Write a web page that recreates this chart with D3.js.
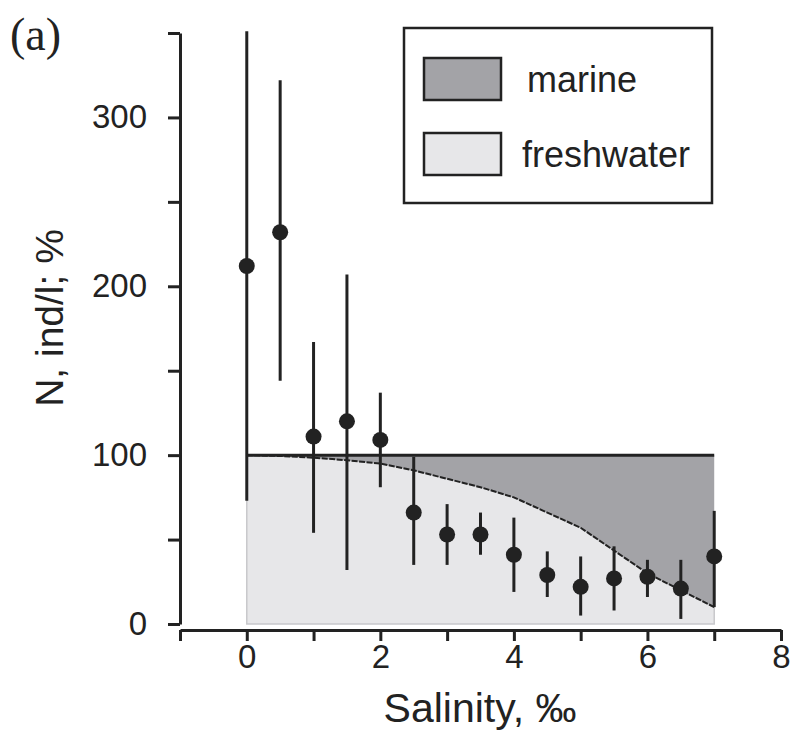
<!DOCTYPE html>
<html>
<head>
<meta charset="utf-8">
<script src="https://cdn.jsdelivr.net/npm/d3@7"></script>
<style>
  body { margin: 0; background: #fff; }
  svg { display: block; }
  text { font-family: "Liberation Sans", Arial, sans-serif; fill: #222; }
</style>
</head>
<body>
<div id="chart"></div>
<script>
// Dados
const salinity = [0, 0.5, 1, 1.5, 2, 2.5, 3, 3.5, 4, 4.5, 5, 5.5, 6, 6.5, 7];
const meanN = [212, 232, 111, 120, 109, 66, 53, 53, 41, 29, 22, 27, 28, 21, 40];
const lowN = [73, 144, 54, 32, 81, 35, 35, 41, 19, 16, 5, 8, 16, 3, 10];
const highN = [351, 322, 167, 207, 137, 99, 71, 66, 63, 43, 40, 46, 38, 38, 67];
const freshwaterPct = [100, 99.5, 98.5, 97, 95, 91, 86, 81, 75, 66, 57, 43.5, 30, 20, 10];
const totalPct = [100, 100, 100, 100, 100, 100, 100, 100, 100, 100, 100, 100, 100, 100, 100];

const xTicks = [-1, 0, 1, 2, 3, 4, 5, 6, 7, 8];
const xLabels = [0, 2, 4, 6, 8];
const yTicks = [0, 50, 100, 150, 200, 250, 300, 350];
const yLabels = [0, 100, 200, 300];
const legendItems = ["marine", "freshwater"];

const W = 794, H = 751;
const colors = { marine: "#a3a3a7", freshwater: "#e7e7e9", ink: "#222" };

const svg = d3.select("#chart")
    .append("svg")
    .attr("width", W)
    .attr("height", H);

// Escalas
const x = d3.scaleLinear().domain([-1, 8]).range([180, 781]);
const y = d3.scaleLinear().domain([0, 350]).range([624, 33]);

const rows = salinity.map((s, i) => ({
    s, mean: meanN[i], low: lowN[i], high: highN[i],
    fresh: freshwaterPct[i], total: totalPct[i]
}));

// Áreas
const freshArea = d3.area()
    .x(d => x(d.s))
    .y0(y(0))
    .y1(d => y(d.fresh));

const marineArea = d3.area()
    .x(d => x(d.s))
    .y0(d => y(d.fresh))
    .y1(d => y(d.total));

svg.append("path")
    .datum(rows)
    .attr("d", freshArea)
    .attr("fill", colors.freshwater)
    .attr("stroke", "#c8c8cb")
    .attr("stroke-width", 1.5);

svg.append("path")
    .datum(rows)
    .attr("d", marineArea)
    .attr("fill", colors.marine);

// Linha da fronteira
svg.append("path")
    .datum(rows)
    .attr("d", d3.line().x(d => x(d.s)).y(d => y(d.fresh)))
    .attr("fill", "none")
    .attr("stroke", colors.ink)
    .attr("stroke-width", 2)
    .attr("stroke-dasharray", "6,1.5");

svg.append("path")
    .datum(rows)
    .attr("d", d3.line().x(d => x(d.s)).y(d => y(d.total)))
    .attr("fill", "none")
    .attr("stroke", colors.ink)
    .attr("stroke-width", 3);

// Barras de erro e pontos
svg.selectAll(".err")
    .data(rows)
    .enter()
    .append("line")
    .attr("x1", d => x(d.s))
    .attr("x2", d => x(d.s))
    .attr("y1", d => y(d.low))
    .attr("y2", d => y(d.high))
    .attr("stroke", colors.ink)
    .attr("stroke-width", 3);

svg.selectAll(".dot")
    .data(rows)
    .enter()
    .append("circle")
    .attr("cx", d => x(d.s))
    .attr("cy", d => y(d.mean))
    .attr("r", 8)
    .attr("fill", colors.ink);

// Eixos
const xAxis = d3.axisBottom(x)
    .tickValues(xTicks)
    .tickSize(11)
    .tickSizeOuter(0)
    .tickPadding(4)
    .tickFormat(d => xLabels.includes(d) ? d : "");

const gx = svg.append("g")
    .attr("transform", "translate(0,630)")
    .call(xAxis);

const yAxis = d3.axisLeft(y)
    .tickValues(yTicks)
    .tickSize(12)
    .tickSizeOuter(0)
    .tickPadding(21)
    .tickFormat(d => yLabels.includes(d) ? d : "");

const gy = svg.append("g")
    .attr("transform", "translate(180,0)")
    .call(yAxis);

[gx, gy].forEach(g => {
    g.selectAll("path, line").attr("stroke", colors.ink).attr("stroke-width", 3);
    g.selectAll("text")
        .attr("fill", colors.ink)
        .style("font-size", "33px")
        .style("font-family", "'Liberation Sans', Arial, sans-serif");
});

// Títulos
svg.append("text")
    .attr("x", 480)
    .attr("y", 722)
    .attr("text-anchor", "middle")
    .style("font-size", "41px")
    .text("Salinity, ‰");

svg.append("text")
    .attr("transform", "translate(63,318) rotate(-90)")
    .attr("text-anchor", "middle")
    .style("font-size", "39px")
    .text("N, ind/l; %");

svg.append("text")
    .attr("x", 10)
    .attr("y", 50)
    .style("font-family", "'Liberation Serif', 'Times New Roman', serif")
    .style("font-size", "46px")
    .text("(a)");

// Legenda
const legend = svg.append("g");

legend.append("rect")
    .attr("x", 404)
    .attr("y", 28)
    .attr("width", 308)
    .attr("height", 175)
    .attr("fill", "#fff")
    .attr("stroke", colors.ink)
    .attr("stroke-width", 2.5);

legendItems.forEach((name, i) => {
    legend.append("rect")
        .attr("x", 424)
        .attr("y", 58 + i * 75)
        .attr("width", 77)
        .attr("height", 42)
        .attr("fill", colors[name])
        .attr("stroke", colors.ink)
        .attr("stroke-width", 2.5);
    legend.append("text")
        .attr("x", i === 0 ? 527 : 522)
        .attr("y", 92 + i * 75)
        .style("font-size", "36px")
        .text(name);
});
</script>
</body>
</html>
